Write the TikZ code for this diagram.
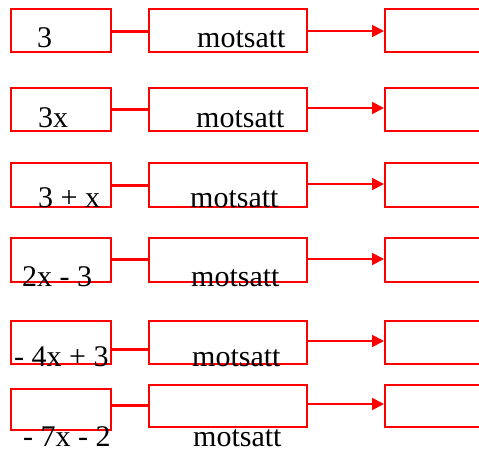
\documentclass[tikz,border=0pt]{standalone}
\usepackage{fontspec}
\setmainfont{Liberation Serif}
\usetikzlibrary{arrows.meta}
\begin{document}
\begin{tikzpicture}[x=1pt,y=-1pt,
  box/.style={draw=red,line width=2pt,rectangle,inner sep=0pt},
  boxa/.style={box,minimum width=100pt},
  boxb/.style={box,minimum width=158pt},
  thickline/.style={draw=red,line width=3pt},
  arrowline/.style={draw=red,line width=1.8pt,-{Triangle[length=12pt,width=12pt]}},
  lbl/.style={anchor=base west,inner sep=0pt,font=\fontsize{30}{31}\selectfont}]
\useasboundingbox (0,0) rectangle (479,450);
% row 1
\node[boxa,minimum height=43pt] (a1) at (61,30.5) {};
\node[boxb,minimum height=43pt] (b1) at (228,30.5) {};
\node[boxb,minimum height=43pt] (c1) at (464,30.5) {};
\draw[thickline] (a1.east |- 0,31.7) -- (b1.west |- 0,31.7);
\draw[arrowline] (b1.east |- 0,31) -- (c1.west |- 0,31);
\node[lbl] (t1) at (37,47) {3};
\node[lbl] (m1) at (197,47) {motsatt};
% row 2
\node[boxa,minimum height=43pt] (a2) at (61,109.5) {};
\node[boxb,minimum height=43pt] (b2) at (228,109.5) {};
\node[boxb,minimum height=43pt] (c2) at (464,109.5) {};
\draw[thickline] (a2.east |- 0,109) -- (b2.west |- 0,109);
\draw[arrowline] (b2.east |- 0,108) -- (c2.west |- 0,108);
\node[lbl] (t2) at (38,127) {3x};
\node[lbl] (m2) at (196,127) {motsatt};
% row 3
\node[boxa,minimum height=44pt] (a3) at (61,185) {};
\node[boxb,minimum height=44pt] (b3) at (228,185) {};
\node[boxb,minimum height=44pt] (c3) at (464,185) {};
\draw[thickline] (a3.east |- 0,185) -- (b3.west |- 0,185);
\draw[arrowline] (b3.east |- 0,184) -- (c3.west |- 0,184);
\node[lbl] (t3) at (38,207) {3 + x};
\node[lbl] (m3) at (190,207) {motsatt};
% row 4
\node[boxa,minimum height=44pt] (a4) at (61,260) {};
\node[boxb,minimum height=44pt] (b4) at (228,260) {};
\node[boxb,minimum height=44pt] (c4) at (464,260) {};
\draw[thickline] (a4.east |- 0,259) -- (b4.west |- 0,259);
\draw[arrowline] (b4.east |- 0,259) -- (c4.west |- 0,259);
\node[lbl] (t4) at (22,286) {2x - 3};
\node[lbl] (m4) at (191,286) {motsatt};
% row 5
\node[boxa,minimum height=43pt] (a5) at (61,342.5) {};
\node[boxb,minimum height=43pt] (b5) at (228,342.5) {};
\node[boxb,minimum height=43pt] (c5) at (464,342.5) {};
\draw[thickline] (a5.east |- 0,349) -- (b5.west |- 0,349);
\draw[arrowline] (b5.east |- 0,341) -- (c5.west |- 0,341);
\node[lbl] (t5) at (14,366) {- 4x + 3};
\node[lbl] (m5) at (192,366) {motsatt};
% row 6
\node[boxa,minimum height=41pt] (a6) at (61,409.5) {};
\node[boxb,minimum height=42pt] (b6) at (228,406) {};
\node[boxb,minimum height=42pt] (c6) at (464,406) {};
\draw[thickline] (a6.east |- 0,405) -- (b6.west |- 0,405);
\draw[arrowline] (b6.east |- 0,404) -- (c6.west |- 0,404);
\node[lbl,text depth=0pt] (t6) at (23,446) {- 7x - 2};
\node[lbl,text depth=0pt] (m6) at (193,446) {motsatt};
\end{tikzpicture}
\end{document}
